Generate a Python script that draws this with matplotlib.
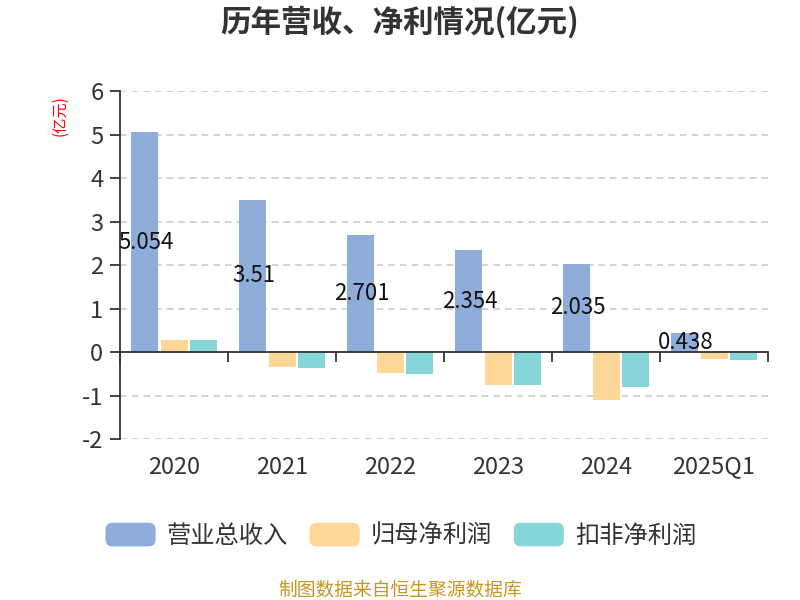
import matplotlib
matplotlib.use("Agg")
import matplotlib.pyplot as plt
import numpy as np
from matplotlib.patches import FancyBboxPatch
from matplotlib.legend_handler import HandlerPatch
import matplotlib.patches as mpatches

plt.rcParams['font.family'] = ['Noto Sans CJK SC', 'DejaVu Sans']

categories = ['2020', '2021', '2022', '2023', '2024', '2025Q1']
revenue = [5.054, 3.51, 2.701, 2.354, 2.035, 0.438]
net_profit = [0.28, -0.34, -0.48, -0.75, -1.09, -0.15]
deducted_profit = [0.28, -0.37, -0.49, -0.745, -0.80, -0.18]
series_names = ['营业总收入', '归母净利润', '扣非净利润']
colors = ['#8EADDA', '#FFD899', '#86D5D8']
yticks = [-2, -1, 0, 1, 2, 3, 4, 5, 6]

fig = plt.figure(figsize=(8, 6), dpi=100)
ax = fig.add_axes([0.15, 0.268, 0.81, 0.58])

x = np.arange(len(categories))
w = 0.25
off = 0.272
ax.bar(x - off, revenue, w, color=colors[0], label=series_names[0], zorder=3)
ax.bar(x, net_profit, w, color=colors[1], label=series_names[1], zorder=3)
ax.bar(x + off, deducted_profit, w, color=colors[2], label=series_names[2], zorder=3)

for xi, v in zip(x, revenue):
    ax.text(xi - off + 0.01, v / 2, f'{v:g}', ha='center', va='center', fontsize=16,
            color='#111111', zorder=5)

ax.set_xlim(-0.5, len(categories) - 0.5)
ax.set_ylim(-2, 6)
ax.set_yticks(yticks)
ax.set_yticklabels([str(t) for t in yticks], fontsize=17, color='#333333')
for t in yticks:
    if t != 0:
        ax.axhline(t, color='#cccccc', linestyle=(0, (4, 3)), linewidth=1.2, zorder=1)

for s in ['top', 'right']:
    ax.spines[s].set_visible(False)
ax.spines['left'].set_color('#333333')
ax.spines['left'].set_linewidth(1.3)
ax.spines['bottom'].set_position(('data', 0))
ax.spines['bottom'].set_color('#333333')
ax.spines['bottom'].set_linewidth(1.3)
ax.spines['bottom'].set_zorder(4)
ax.tick_params(axis='y', length=7, width=1.3, color='#333333', pad=5)
ax.set_xticks(np.arange(len(categories) + 1) - 0.5)
ax.set_xticklabels([])
ax.tick_params(axis='x', length=7, width=1.3, color='#333333', direction='out')

for xi, c in zip(x, categories):
    ax.text(xi, -0.047, c, transform=ax.get_xaxis_transform(), ha='center', va='top',
            fontsize=17, color='#333333')

fig.text(0.5, 0.962, '历年营收、净利情况(亿元)', ha='center', va='center',
         fontsize=22, fontweight='bold', color='#333333')
fig.text(0.075, 0.807, '(亿元)', rotation=90, ha='center', va='center',
         fontsize=11, color='red')
fig.text(0.5, 0.0167, '制图数据来自恒生聚源数据库', ha='center', va='center',
         fontsize=13.5, color='#C8961E')


class HandlerRound(HandlerPatch):
    def create_artists(self, legend, orig_handle, xdescent, ydescent, width, height, fontsize, trans):
        p = FancyBboxPatch((-xdescent, -ydescent), width, height,
                           boxstyle='round,pad=0,rounding_size=5',
                           facecolor=orig_handle.get_facecolor(), edgecolor='none',
                           transform=trans)
        return [p]

handles = [mpatches.Patch(facecolor=c, label=n) for c, n in zip(colors, series_names)]
fig.legend(handles=handles, loc='center', bbox_to_anchor=(0.501, 0.107), ncol=3,
           frameon=False, fontsize=17.5, handlelength=2.06, handleheight=1.12,
           columnspacing=0.9, handletextpad=0.45,
           handler_map={mpatches.Patch: HandlerRound()},
           labelcolor='#333333')

fig.savefig('out.png', dpi=100)
